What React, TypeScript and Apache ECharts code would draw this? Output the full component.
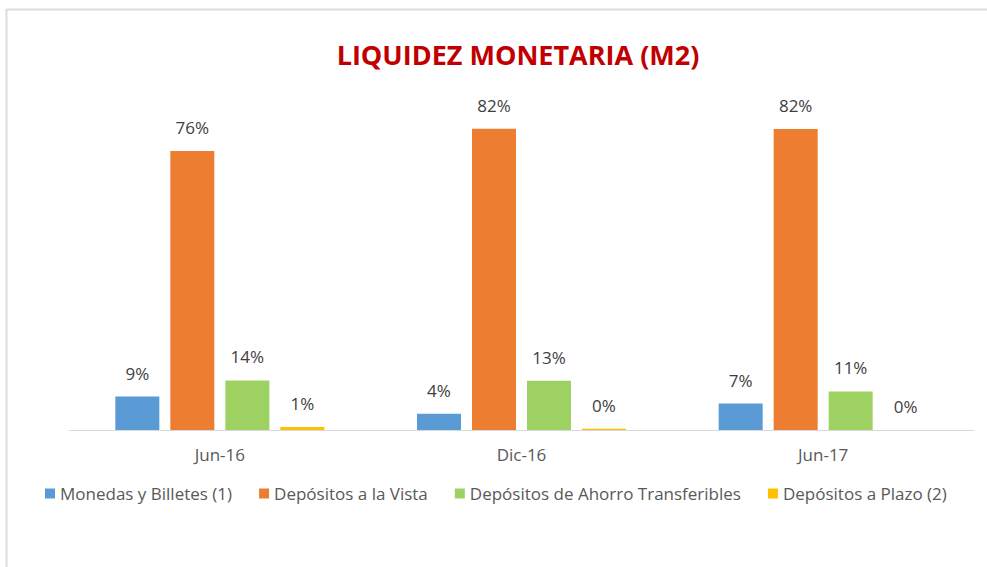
import React, { useEffect, useRef } from "react";
import * as echarts from "echarts";

const categories = ["Jun-16", "Dic-16", "Jun-17"];
const seriesNames = [
  "Monedas y Billetes (1)",
  "Depósitos a la Vista",
  "Depósitos de Ahorro Transferibles",
  "Depósitos a Plazo (2)",
];
const monedas = [9.1, 4.4, 7.2];
const vista = [76, 82.1, 82];
const ahorro = [13.5, 13.4, 10.5];
const plazo = [0.8, 0.35, 0];
const colors = ["#5B9BD5", "#ED7D31", "#9DD263", "#FFC000"];

export default function App() {
  const ref = useRef<HTMLDivElement>(null);
  useEffect(() => {
    if (!ref.current) return;
    const chart = echarts.init(ref.current, null, { renderer: "svg" });
    const font = "'Open Sans', 'Noto Sans', sans-serif";
    const data = [monedas, vista, ahorro, plazo];
    chart.setOption({
      animation: false,
      backgroundColor: "#ffffff",
      title: {
        text: "LIQUIDEZ MONETARIA (M2)",
        left: 513,
        textAlign: "center",
        top: 36,
        textStyle: { color: "#C00000", fontSize: 27, fontWeight: "bold", fontFamily: font },
      },
      legend: {
        data: seriesNames,
        left: 40,
        top: 480,
        itemWidth: 10,
        itemHeight: 10,
        itemGap: 27,
        icon: "rect",
        textStyle: { color: "#595959", fontSize: 17, fontFamily: font },
      },
      grid: { left: 69, right: 13, top: 63, bottom: 137, containLabel: false },
      xAxis: {
        type: "category",
        data: categories,
        axisLine: { lineStyle: { color: "#D9D9D9", width: 1 } },
        axisTick: { show: false },
        axisLabel: { color: "#595959", fontSize: 17, fontFamily: font, margin: 16 },
      },
      yAxis: { type: "value", min: 0, max: 100, show: false, splitLine: { show: false } },
      series: seriesNames.map((name, i) => ({
        name,
        type: "bar",
        data: data[i],
        barWidth: 44,
        barGap: "25%",
        itemStyle: { color: colors[i] },
        label: {
          show: true,
          position: "top",
          distance: 15,
          color: "#404040",
          fontSize: 17,
          fontFamily: font,
          formatter: (p: any) => Math.round(p.value) + "%",
        },
      })),
      graphic: [
        { type: "line", shape: { x1: 6.5, y1: 9, x2: 6.5, y2: 567 }, style: { stroke: "#DDDDDD", lineWidth: 2 } },
        { type: "line", shape: { x1: 6, y1: 9.5, x2: 987, y2: 9.5 }, style: { stroke: "#DDDDDD", lineWidth: 2 } },
      ],
    });
    return () => chart.dispose();
  }, []);
  return <div ref={ref} style={{ width: 987, height: 567, position: "absolute", left: 0, top: 0 }} />;
}
